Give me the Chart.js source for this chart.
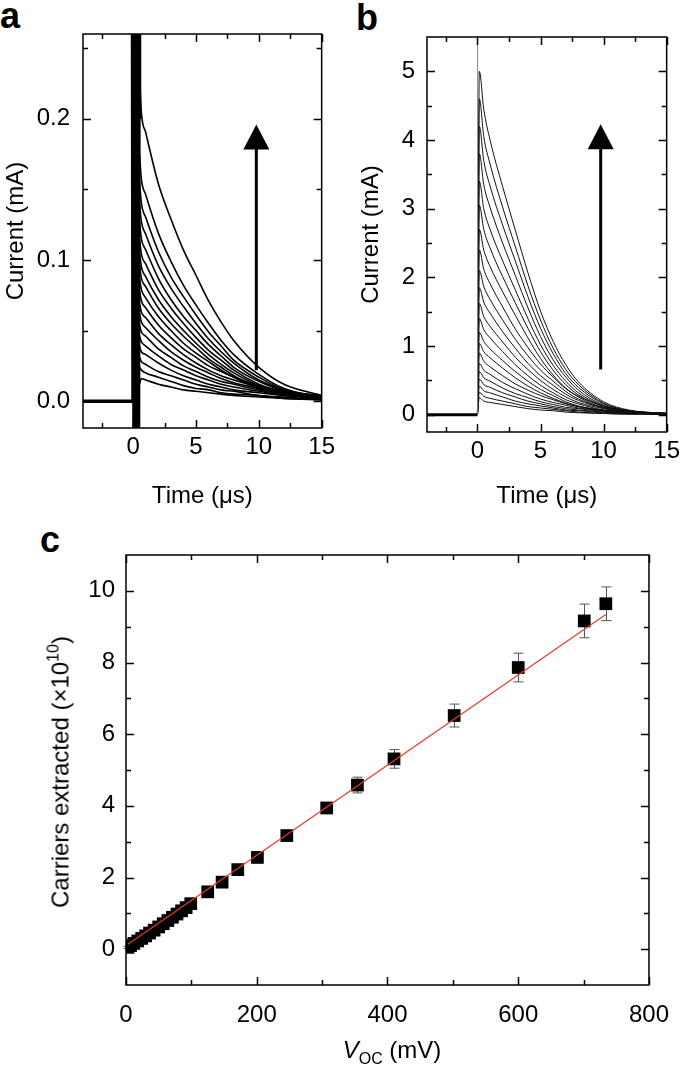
<!DOCTYPE html>
<html>
<head>
<meta charset="utf-8">
<script src="https://cdn.jsdelivr.net/npm/chart.js@4.4.0/dist/chart.umd.min.js"></script>
<style>
html, body { margin: 0; padding: 0; background: #fff; }
body { width: 685px; height: 1075px; position: relative; overflow: hidden; font-family: "Liberation Sans", Arial, sans-serif; color: #000; }
.box { position: absolute; }
.lbl { position: absolute; font-weight: bold; font-size: 36px; line-height: 36px; }
.rot { position: absolute; font-size: 24px; line-height: 28px; white-space: nowrap; transform: translate(-50%, -50%) rotate(-90deg); }
.hor { position: absolute; font-size: 24px; line-height: 28px; white-space: nowrap; transform: translate(-50%, -50%); }
.sup { font-size: 16px; position: relative; top: -10px; }
.sub { font-size: 16px; position: relative; top: 6px; }
</style>
</head>
<body>
<div class="lbl" style="left:0px; top:-2px;">a</div>
<div class="lbl" style="left:356px; top:0px;">b</div>
<div class="lbl" style="left:40px; top:522px;">c</div>

<div class="box" style="left:0; top:0; width:340px; height:520px;"><canvas id="ChartA"></canvas></div>
<div class="box" style="left:340px; top:0; width:345px; height:520px;"><canvas id="ChartB"></canvas></div>
<div class="box" style="left:0; top:520px; width:685px; height:555px;"><canvas id="ChartC"></canvas></div>

<div class="rot" style="left:62px; top:772px;">Carriers extracted (×10<span class="sup">10</span>)</div>
<div class="hor" style="left:392px; top:1051px;"><i>V</i><span class="sub">OC</span> (mV)</div>

<script>
// panel a : transient current, low light
var tA = [0.5, 0.65, 1, 2, 3, 4, 5, 6, 7, 8, 10, 12, 15];
var currentsA = [
	[0.23, 0.204, 0.19, 0.154, 0.129, 0.107, 0.089, 0.071, 0.056, 0.043, 0.024, 0.012, 0.004],
	[0.175, 0.157, 0.146, 0.119, 0.099, 0.082, 0.068, 0.055, 0.043, 0.033, 0.019, 0.009, 0.003],
	[0.155, 0.14, 0.13, 0.106, 0.088, 0.074, 0.061, 0.049, 0.039, 0.029, 0.017, 0.008, 0.003],
	[0.14, 0.127, 0.118, 0.096, 0.08, 0.067, 0.055, 0.044, 0.035, 0.027, 0.015, 0.008, 0.003],
	[0.127, 0.115, 0.107, 0.087, 0.072, 0.06, 0.05, 0.04, 0.032, 0.024, 0.014, 0.007, 0.002],
	[0.115, 0.104, 0.097, 0.079, 0.066, 0.055, 0.045, 0.036, 0.029, 0.022, 0.012, 0.006, 0.002],
	[0.105, 0.095, 0.088, 0.072, 0.06, 0.05, 0.041, 0.033, 0.026, 0.02, 0.011, 0.006, 0.002],
	[0.096, 0.087, 0.081, 0.066, 0.055, 0.046, 0.038, 0.03, 0.024, 0.018, 0.01, 0.005, 0.002],
	[0.087, 0.079, 0.073, 0.06, 0.05, 0.041, 0.034, 0.028, 0.022, 0.017, 0.009, 0.005, 0.002],
	[0.078, 0.071, 0.066, 0.054, 0.045, 0.037, 0.031, 0.025, 0.021, 0.017, 0.011, 0.007, 0.004],
	[0.069, 0.063, 0.059, 0.048, 0.04, 0.033, 0.027, 0.022, 0.018, 0.015, 0.01, 0.006, 0.003],
	[0.062, 0.056, 0.052, 0.043, 0.035, 0.029, 0.024, 0.02, 0.016, 0.013, 0.009, 0.006, 0.003],
	[0.054, 0.049, 0.046, 0.037, 0.031, 0.025, 0.021, 0.017, 0.014, 0.012, 0.008, 0.005, 0.002],
	[0.046, 0.042, 0.039, 0.032, 0.026, 0.022, 0.018, 0.015, 0.012, 0.01, 0.007, 0.004, 0.002],
	[0.039, 0.035, 0.033, 0.027, 0.022, 0.018, 0.015, 0.012, 0.01, 0.008, 0.006, 0.004, 0.002],
	[0.031, 0.028, 0.026, 0.021, 0.018, 0.015, 0.012, 0.01, 0.008, 0.007, 0.004, 0.003, 0.001],
	[0.024, 0.022, 0.02, 0.017, 0.014, 0.011, 0.009, 0.008, 0.006, 0.005, 0.004, 0.002, 0.001],
	[0.012, 0.016, 0.015, 0.012, 0.01, 0.008, 0.007, 0.006, 0.005, 0.004, 0.003, 0.002, 0.001]
];
var baseT = [-4, 0];
var baseA = [0, 0];
var ringT = [-0.08, -0.04, 0, 0.04, 0.08, 0.12, 0.16, 0.2, 0.24, 0.28, 0.32, 0.36, 0.4, 0.44, 0.48, 0.52];
var ringA = [0.27, 0, 0.27, -0.03, 0.27, -0.03, 0.27, -0.03, 0.27, -0.03, 0.27, -0.03, 0.27, -0.03, 0.27, 0.2];
var arrowA = [9.8, 0.022, 0.196];

var xTicksAB = [0, 5, 10, 15];
var xMinorAB = [-2.5, 2.5, 7.5, 12.5];
var yTicksA = [0, 0.1, 0.2];
var yMinorA = [0.05, 0.15, 0.25];

// panel b : transient current, high light
var tB = [0, 0.15, 0.5, 1, 2, 3, 4, 5, 6, 7, 8, 10, 12, 15];
var currentsB = [
	[0, 5.0, 4.45, 4.0, 3.32, 2.69, 2.07, 1.51, 1.07, 0.73, 0.48, 0.19, 0.07, 0.02],
	[0, 4.6, 4.05, 3.65, 3.02, 2.45, 1.88, 1.38, 0.97, 0.66, 0.44, 0.17, 0.06, 0.02],
	[0, 4.2, 3.7, 3.33, 2.76, 2.24, 1.72, 1.26, 0.89, 0.6, 0.4, 0.16, 0.06, 0.02],
	[0, 3.8, 3.35, 3.02, 2.5, 2.03, 1.56, 1.14, 0.8, 0.55, 0.36, 0.14, 0.05, 0.02],
	[0, 3.4, 3.0, 2.7, 2.24, 1.82, 1.4, 1.02, 0.72, 0.49, 0.32, 0.13, 0.05, 0.02],
	[0, 3.05, 2.7, 2.43, 2.01, 1.63, 1.26, 0.92, 0.65, 0.44, 0.29, 0.12, 0.04, 0.01],
	[0, 2.7, 2.4, 2.16, 1.79, 1.45, 1.12, 0.82, 0.58, 0.39, 0.26, 0.1, 0.04, 0.01],
	[0, 2.4, 2.12, 1.91, 1.57, 1.25, 0.98, 0.74, 0.55, 0.38, 0.27, 0.13, 0.06, 0.02],
	[0, 2.1, 1.87, 1.68, 1.38, 1.1, 0.86, 0.65, 0.49, 0.34, 0.23, 0.11, 0.05, 0.02],
	[0, 1.85, 1.64, 1.48, 1.21, 0.97, 0.75, 0.57, 0.43, 0.3, 0.21, 0.1, 0.05, 0.02],
	[0, 1.62, 1.43, 1.29, 1.06, 0.84, 0.66, 0.5, 0.37, 0.26, 0.18, 0.09, 0.04, 0.01],
	[0, 1.4, 1.24, 1.12, 0.92, 0.73, 0.57, 0.43, 0.32, 0.22, 0.16, 0.07, 0.03, 0.01],
	[0, 1.2, 1.07, 0.96, 0.79, 0.63, 0.49, 0.37, 0.28, 0.19, 0.13, 0.06, 0.03, 0.01],
	[0, 1.04, 0.92, 0.83, 0.68, 0.54, 0.42, 0.32, 0.24, 0.17, 0.12, 0.06, 0.03, 0.01],
	[0, 0.9, 0.78, 0.7, 0.57, 0.45, 0.36, 0.28, 0.22, 0.16, 0.12, 0.07, 0.04, 0.02],
	[0, 0.75, 0.65, 0.59, 0.47, 0.38, 0.3, 0.23, 0.18, 0.14, 0.1, 0.06, 0.03, 0.01],
	[0, 0.63, 0.54, 0.49, 0.39, 0.31, 0.25, 0.19, 0.15, 0.11, 0.09, 0.05, 0.03, 0.01],
	[0, 0.52, 0.44, 0.4, 0.32, 0.26, 0.2, 0.16, 0.12, 0.09, 0.07, 0.04, 0.02, 0.01],
	[0, 0.42, 0.35, 0.32, 0.26, 0.2, 0.16, 0.13, 0.1, 0.07, 0.06, 0.03, 0.02, 0.01],
	[0, 0.33, 0.27, 0.24, 0.2, 0.16, 0.12, 0.1, 0.08, 0.06, 0.04, 0.02, 0.01, 0.01],
	[0, 0.25, 0.2, 0.18, 0.15, 0.12, 0.09, 0.07, 0.06, 0.04, 0.03, 0.02, 0.01, 0.01]
];
var baseB = [0, 0];
var spikeT = [0, 0.01];
var spikeB = [0, 5.6];
var arrowB = [9.77, 0.66, 4.23];
var yTicksB = [0, 1, 2, 3, 4, 5];
var yMinorB = [0.5, 1.5, 2.5, 3.5, 4.5];

// panel c : carriers vs Voc
var vocC = [3, 7, 12, 18, 24, 30, 36, 43, 50, 57, 64, 71, 78, 85, 92, 99, 125, 147, 171, 201, 246, 307, 354, 410, 502, 600, 701, 734];
var carriersC = [0.05, 0.1, 0.16, 0.23, 0.3, 0.37, 0.45, 0.53, 0.62, 0.71, 0.8, 0.89, 0.98, 1.07, 1.16, 1.27, 1.6, 1.87, 2.22, 2.56, 3.17, 3.94, 4.58, 5.31, 6.52, 7.86, 9.16, 9.64];
var errC = [0.03, 0.03, 0.03, 0.03, 0.03, 0.03, 0.03, 0.03, 0.03, 0.03, 0.04, 0.04, 0.04, 0.04, 0.04, 0.05, 0.05, 0.06, 0.06, 0.07, 0.08, 0.12, 0.22, 0.26, 0.32, 0.4, 0.47, 0.47];
var fitV = [3, 734];
var fitC = [0.14, 9.34];
var xTicksC = [0, 200, 400, 600, 800];
var xMinorC = [100, 300, 500, 700];
var yTicksC = [0, 2, 4, 6, 8, 10];
var yMinorC = [1, 3, 5, 7, 9];

var FONT = "'Liberation Sans', Arial, sans-serif";

function pts(xs, ys){
	return xs.map(function(x, i){ return {x: x, y: ys[i]}; });
}

// frame with inward ticks on four sides, plus the arrow
var framePlugin = {
	id: 'frame',
	afterDatasetsDraw: function(chart, args, opts){
		var ctx = chart.ctx, ca = chart.chartArea, sx = chart.scales.x, sy = chart.scales.y;
		ctx.save();
		ctx.strokeStyle = '#000';
		ctx.lineWidth = 1.5;
		ctx.strokeRect(ca.left, ca.top, ca.right - ca.left, ca.bottom - ca.top);
		function xt(vals, len){
			vals.forEach(function(v){
				var p = Math.round(sx.getPixelForValue(v)) + 0.5;
				ctx.beginPath();
				ctx.moveTo(p, ca.bottom); ctx.lineTo(p, ca.bottom - len);
				ctx.moveTo(p, ca.top); ctx.lineTo(p, ca.top + len);
				ctx.stroke();
			});
		}
		function yt(vals, len){
			vals.forEach(function(v){
				var p = Math.round(sy.getPixelForValue(v)) + 0.5;
				ctx.beginPath();
				ctx.moveTo(ca.left, p); ctx.lineTo(ca.left + len, p);
				ctx.moveTo(ca.right, p); ctx.lineTo(ca.right - len, p);
				ctx.stroke();
			});
		}
		xt(opts.xMajor, 8); xt(opts.xMinor, 5);
		yt(opts.yMajor, 8); yt(opts.yMinor, 5);

		if(opts.arrow){
			var ax = sx.getPixelForValue(opts.arrow[0]);
			var y0 = sy.getPixelForValue(opts.arrow[1]);
			var tip = sy.getPixelForValue(opts.arrow[2]);
			ctx.fillStyle = '#000';
			ctx.lineWidth = 3;
			ctx.beginPath();
			ctx.moveTo(ax, y0); ctx.lineTo(ax, tip + 20);
			ctx.stroke();
			ctx.beginPath();
			ctx.moveTo(ax, tip); ctx.lineTo(ax - 13, tip + 25); ctx.lineTo(ax + 13, tip + 25);
			ctx.closePath();
			ctx.fill();
		}
		ctx.restore();
	}
};

// vertical error bars for panel c
var errPlugin = {
	id: 'errbars',
	beforeDatasetsDraw: function(chart){
		var ctx = chart.ctx, sx = chart.scales.x, sy = chart.scales.y;
		ctx.save();
		ctx.strokeStyle = '#555';
		ctx.lineWidth = 1;
		vocC.forEach(function(v, i){
			var px = Math.round(sx.getPixelForValue(v)) + 0.5;
			var hi = sy.getPixelForValue(carriersC[i] + errC[i]);
			var lo = sy.getPixelForValue(carriersC[i] - errC[i]);
			ctx.beginPath();
			ctx.moveTo(px, hi); ctx.lineTo(px, lo);
			ctx.moveTo(px - 5, hi); ctx.lineTo(px + 5, hi);
			ctx.moveTo(px - 5, lo); ctx.lineTo(px + 5, lo);
			ctx.stroke();
		});
		ctx.restore();
	}
};

function axisX(min, max, major, h, labelPad, title, titlePad){
	return {
		type: 'linear', min: min, max: max,
		afterBuildTicks: function(s){ s.ticks = major.map(function(v){ return {value: v}; }); },
		afterFit: function(s){ s.height = h; },
		grid: {display: false, drawTicks: false},
		border: {display: false},
		ticks: {color: '#000', font: {family: FONT, size: 24}, padding: labelPad, maxRotation: 0, autoSkip: false},
		title: {display: !!title, text: title, color: '#000', font: {family: FONT, size: 24}, padding: {top: 0, bottom: titlePad}}
	};
}
function axisY(min, max, major, w, labelPad, fmt, title, titlePad){
	return {
		type: 'linear', min: min, max: max,
		afterBuildTicks: function(s){ s.ticks = major.map(function(v){ return {value: v}; }); },
		afterFit: function(s){ s.width = w; },
		grid: {display: false, drawTicks: false},
		border: {display: false},
		ticks: {color: '#000', font: {family: FONT, size: 24}, padding: labelPad, autoSkip: false, callback: fmt},
		title: {display: !!title, text: title, color: '#000', font: {family: FONT, size: 24}, padding: {top: titlePad, bottom: 0}}
	};
}

// panel a
var dataA = [
	{data: pts(baseT, baseA), borderColor: '#000', borderWidth: 3.5},
	{data: pts(ringT, ringA), borderColor: '#000', borderWidth: 3}
];
currentsA.forEach(function(row){
	dataA.push({data: pts(tA, row), borderColor: '#000', borderWidth: 1.6, cubicInterpolationMode: 'monotone'});
});
new Chart(document.getElementById('ChartA'), {
	type: 'line',
	data: {datasets: dataA},
	options: {
		animation: false, responsive: true, maintainAspectRatio: false, devicePixelRatio: 1,
		elements: {point: {radius: 0}},
		layout: {padding: {top: 34, right: 14, bottom: 0, left: 0}},
		plugins: {legend: {display: false}, tooltip: {enabled: false},
			frame: {xMajor: xTicksAB, xMinor: xMinorAB, yMajor: yTicksA, yMinor: yMinorA, arrow: arrowA}},
		scales: {
			x: axisX(-4, 15, xTicksAB, 92, 5, 'Time (μs)', 9),
			y: axisY(-0.019, 0.26, yTicksA, 83, 13, function(v){ return v.toFixed(1); }, 'Current (mA)', 2)
		}
	},
	plugins: [framePlugin]
});

// panel b
var dataB = [
	{data: pts(baseT, baseB), borderColor: '#000', borderWidth: 3},
	{data: pts(spikeT, spikeB), borderColor: '#888', borderWidth: 1}
];
currentsB.forEach(function(row){
	dataB.push({data: pts(tB, row), borderColor: '#111', borderWidth: 1, cubicInterpolationMode: 'monotone'});
});
new Chart(document.getElementById('ChartB'), {
	type: 'line',
	data: {datasets: dataB},
	options: {
		animation: false, responsive: true, maintainAspectRatio: false, devicePixelRatio: 1,
		elements: {point: {radius: 0}},
		layout: {padding: {top: 37, right: 15, bottom: 0, left: 0}},
		plugins: {legend: {display: false}, tooltip: {enabled: false},
			frame: {xMajor: xTicksAB, xMinor: xMinorAB, yMajor: yTicksB, yMinor: yMinorB, arrow: arrowB}},
		scales: {
			x: axisX(-4, 15, xTicksAB, 88, 5, 'Time (μs)', 9),
			y: axisY(-0.25, 5.5, yTicksB, 87, 12, function(v){ return v; }, 'Current (mA)', 17)
		}
	},
	plugins: [framePlugin]
});

// panel c
new Chart(document.getElementById('ChartC'), {
	data: {
		datasets: [{
			type: 'line',
			data: pts(fitV, fitC),
			borderColor: '#e8392c',
			borderWidth: 1.2,
			pointRadius: 0,
			order: 0
		},{
			type: 'scatter',
			data: pts(vocC, carriersC),
			pointStyle: 'rect',
			pointRadius: 9,
			backgroundColor: '#000',
			borderColor: '#000',
			borderWidth: 0,
			order: 1
		}]
	},
	options: {
		animation: false, responsive: true, maintainAspectRatio: false, devicePixelRatio: 1,
		layout: {padding: {top: 35, right: 26, bottom: 0, left: 0}},
		plugins: {legend: {display: false}, tooltip: {enabled: false},
			frame: {xMajor: xTicksC, xMinor: xMinorC, yMajor: yTicksC, yMinor: yMinorC}},
		scales: {
			x: axisX(0, 800, xTicksC, 90, 16, '', 0),
			y: axisY(-1, 11, yTicksC, 126, 11, function(v){ return v; }, '', 0)
		}
	},
	plugins: [errPlugin, framePlugin]
});
</script>
</body>
</html>
